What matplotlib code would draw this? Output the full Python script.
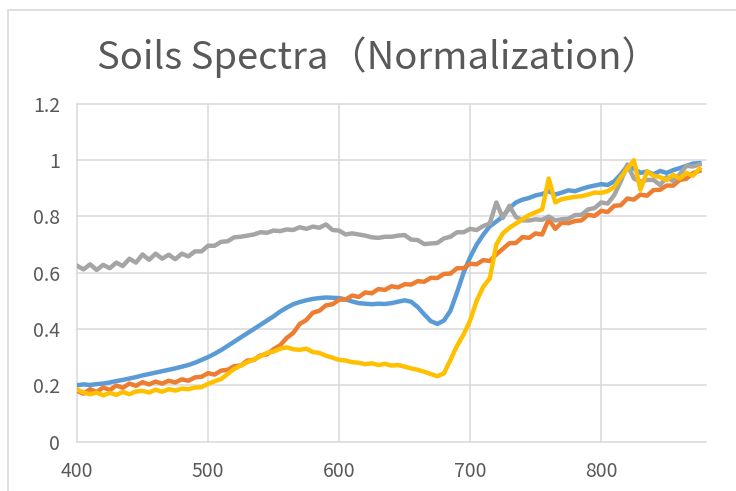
import matplotlib
matplotlib.use("Agg")
import matplotlib.pyplot as plt
from matplotlib.patches import Rectangle

plt.rcParams["font.family"] = ["Noto Sans CJK SC", "DejaVu Sans"]

# ── Data (5 nm steps) ─────────────────────────────────────────────────────────
wavelength = list(range(400, 880, 5))

soil_blue = [
    .200, .203, .201, .204, .206, .210, .215, .219, .224, .229,
    .235, .240, .245, .250, .255, .260, .266, .272, .280, .290,
    .300, .312, .325, .340, .355, .370, .385, .400, .415, .430,
    .445, .462, .476, .488, .496, .502, .507, .510, .512, .511,
    .510, .505, .498, .492, .490, .488, .490, .489, .492, .497,
    .502, .497, .478, .452, .428, .418, .430, .465, .530, .600,
    .655, .700, .735, .765, .782, .800, .830, .850, .860, .866,
    .875, .880, .890, .878, .885, .893, .890, .898, .905, .910,
    .915, .912, .925, .950, .980, .970, .955, .960, .950, .962,
    .955, .965, .972, .980, .988, .990,
]

soil_orange = [
    .180, .170, .186, .176, .192, .183, .199, .191, .206, .198,
    .211, .203, .213, .206, .216, .210, .221, .216, .228, .230,
    .243, .238, .252, .255, .268, .270, .288, .290, .306, .310,
    .328, .342, .368, .386, .418, .432, .458, .465, .484, .488,
    .504, .505, .519, .514, .530, .527, .542, .539, .552, .548,
    .559, .558, .570, .568, .582, .581, .596, .597, .616, .616,
    .632, .630, .645, .642, .665, .685, .705, .706, .727, .724,
    .740, .736, .790, .756, .779, .776, .784, .786, .806, .802,
    .820, .816, .838, .840, .864, .860, .878, .874, .894, .895,
    .910, .910, .930, .934, .954, .962,
]

soil_gray = [
    .625, .612, .630, .610, .628, .616, .636, .624, .650, .636,
    .665, .646, .668, .650, .664, .648, .668, .658, .676, .676,
    .696, .696, .710, .712, .726, .728, .732, .736, .744, .742,
    .750, .748, .754, .752, .762, .756, .764, .760, .772, .752,
    .750, .736, .740, .736, .732, .726, .724, .728, .728, .732,
    .734, .718, .716, .702, .704, .706, .722, .728, .744, .744,
    .756, .752, .766, .775, .850, .795, .838, .798, .786, .786,
    .790, .788, .800, .786, .790, .792, .805, .806, .825, .830,
    .850, .846, .876, .925, .985, .935, .924, .930, .930, .912,
    .940, .926, .950, .980, .978, .985,
]

soil_yellow = [
    .185, .174, .168, .174, .164, .173, .166, .176, .168, .178,
    .180, .174, .184, .177, .186, .181, .188, .186, .192, .193,
    .205, .214, .222, .240, .258, .270, .282, .292, .303, .315,
    .320, .330, .335, .328, .326, .330, .318, .315, .305, .298,
    .290, .288, .282, .280, .275, .278, .272, .276, .270, .272,
    .266, .260, .255, .248, .240, .232, .242, .290, .340, .380,
    .430, .500, .550, .580, .700, .740, .760, .775, .790, .805,
    .815, .825, .935, .850, .862, .866, .870, .872, .878, .885,
    .884, .890, .905, .940, .970, 1.00, .895, .960, .945, .940,
    .930, .948, .935, .955, .945, .970,
]

series = [
    (soil_blue,   "#5B9BD5"),
    (soil_orange, "#ED7D31"),
    (soil_gray,   "#A5A5A5"),
    (soil_yellow, "#FFC000"),
]

# ── Figure ────────────────────────────────────────────────────────────────────
fig = plt.figure(figsize=(7.36, 4.91), dpi=100)
ax = fig.add_axes([0.1046, 0.1008, 0.8546, 0.6874])

for vals, color in series:
    ax.plot(wavelength, vals, color=color, lw=3.2, solid_joinstyle="round")

ax.set_xlim(400, 880)
ax.set_ylim(0, 1.2)
ax.set_xticks([400, 500, 600, 700, 800])
ax.set_yticks([0, 0.2, 0.4, 0.6, 0.8, 1.0, 1.2])
ax.set_yticklabels(["0", "0.2", "0.4", "0.6", "0.8", "1", "1.2"])

ax.grid(True, color="#D9D9D9", lw=1.1)
ax.set_axisbelow(True)
for gl in ax.get_ygridlines() + ax.get_xgridlines():
    gl.set_clip_on(False)
for side in ["top", "right", "left", "bottom"]:
    ax.spines[side].set_visible(False)

ax.tick_params(length=0, labelsize=14, labelcolor="#595959")
ax.tick_params(axis="x", pad=14)
ax.tick_params(axis="y", pad=12)

fig.text(0.514, 0.884, "Soils Spectra（Normalization）", ha="center",
         va="center", fontsize=27.5, color="#595959")

# chart-area border (cropped at right / bottom)
fig.patches.append(Rectangle((0.0109, -0.1), 1.2, 0.9796 + 0.1,
                             transform=fig.transFigure, fill=False,
                             edgecolor="#D9D9D9", lw=1.2))

fig.savefig("out.png", dpi=100)
